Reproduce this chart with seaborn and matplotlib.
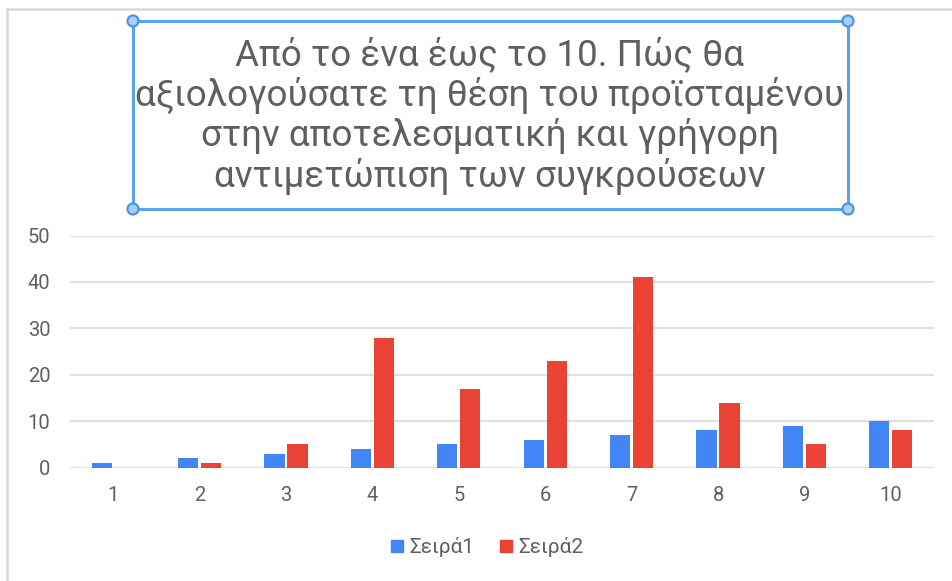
import matplotlib
matplotlib.use("Agg")
import matplotlib.pyplot as plt
from matplotlib.patches import Rectangle, Circle
from matplotlib.lines import Line2D
import seaborn as sns
import pandas as pd

# Chart data
categories = ["1", "2", "3", "4", "5", "6", "7", "8", "9", "10"]
series1 = [1, 2, 3, 4, 5, 6, 7, 8, 9, 10]
series2 = [0, 1, 5, 28, 17, 23, 41, 14, 5, 8]
series_names = ["Σειρά1", "Σειρά2"]
colors = ["#4285f4", "#ea4335"]
y_ticks = [0, 10, 20, 30, 40, 50]
title_text = ("Από το ένα έως το 10. Πώς θα\n"
              "αξιολογούσατε τη θέση του προϊσταμένου\n"
              "στην αποτελεσματική και γρήγορη\n"
              "αντιμετώπιση των συγκρούσεων")

df = pd.DataFrame({
    "category": categories * 2,
    "value": series1 + series2,
    "series": [series_names[0]] * len(categories) + [series_names[1]] * len(categories),
})

sns.set_theme(style="white")
plt.rcParams["font.family"] = ["Roboto", "DejaVu Sans"]

W, H = 952, 581
fig = plt.figure(figsize=(W / 100, H / 100), dpi=100)
fig.patch.set_facecolor("white")

# plot area in pixel coordinates
left, right, top, bottom = 70, 934, 235.5, 467.5
ax = fig.add_axes([left / W, 1 - bottom / H, (right - left) / W, (bottom - top) / H])

sns.barplot(data=df, x="category", y="value", hue="series", order=categories,
            hue_order=series_names, palette=colors, width=0.53, gap=0.12,
            saturation=1, ax=ax, legend=False, edgecolor="none")

ax.set_xlim(-0.5, len(categories) - 0.5)
ax.set_ylim(0, 50)
ax.set_yticks(y_ticks)
ax.set_yticklabels([str(t) for t in y_ticks])
ax.grid(axis="y", color="#e0e0e0", linewidth=1.6, zorder=0)
ax.set_axisbelow(True)
for s in ax.spines.values():
    s.set_visible(False)
ax.set_xlabel("")
ax.set_ylabel("")
ax.tick_params(axis="both", length=0, labelsize=14.5, labelcolor="#5f5f5f")
ax.tick_params(axis="y", pad=14)
ax.tick_params(axis="x", pad=13)
for lbl in ax.get_yticklabels():
    lbl.set_horizontalalignment("right")

# legend
handles = [Line2D([0], [0], marker="s", linestyle="none", markersize=8,
                  markerfacecolor=c, markeredgecolor=c) for c in colors]
fig.legend(handles, series_names, loc="center", bbox_to_anchor=(485 / W, 1 - 547 / H),
           ncol=2, frameon=False, fontsize=15, labelcolor="#5f5f5f",
           handletextpad=0.1, columnspacing=1.0, handlelength=1.0)

# outer frame lines (top and left)
fig.add_artist(Line2D([7 / W, 1], [1 - 9 / H, 1 - 9 / H], color="#dadada", linewidth=1.8,
                      transform=fig.transFigure))
fig.add_artist(Line2D([7 / W, 7 / W], [0, 1 - 9 / H], color="#dadada", linewidth=1.8,
                      transform=fig.transFigure))

# title box with selection handles
bx0, by0, bx1, by1 = 133, 21, 848, 209
fig.add_artist(Rectangle((bx0 / W, 1 - by1 / H), (bx1 - bx0) / W, (by1 - by0) / H,
                         transform=fig.transFigure, fill=False, edgecolor="#5ba3ea",
                         linewidth=2.2))
for (cx, cy) in [(bx0, by0), (bx1, by0), (bx0, by1), (bx1, by1)]:
    fig.add_artist(Circle((cx, H - cy), 5.5, transform=None,
                          facecolor="#a9d0f7", edgecolor="#4a94e6", linewidth=1.6))

fig.text(490 / W, 1 - 116 / H, title_text, ha="center", va="center",
         fontsize=26.5, color="#5f5f5f", linespacing=1.13)

fig.savefig("out.png", dpi=100, facecolor="white")
